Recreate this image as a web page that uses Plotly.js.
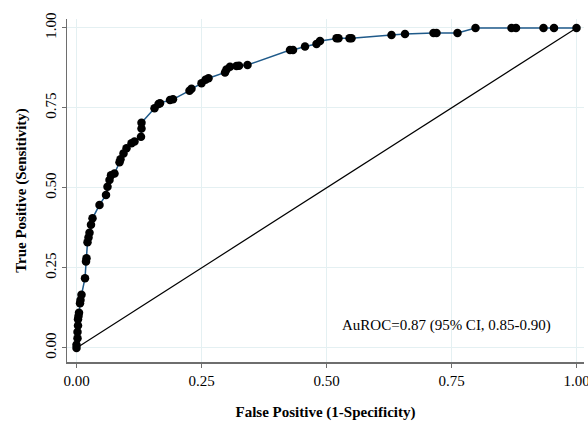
<!DOCTYPE html>
<html>
<head>
<meta charset="utf-8">
<script src="https://cdn.plot.ly/plotly-3.0.1.min.js"></script>
<style>html,body{margin:0;padding:0;background:#fff;}#chart{width:588px;height:421px;}</style>
</head>
<body>
<div id="chart"></div>
<script>
// ROC curve points
const fpr = [0,0,0.002,0.002,0.003,0.003,0.004,0.005,0.007,0.008,0.010,0.017,0.019,0.020,0.022,0.024,0.026,0.029,0.032,0.046,0.059,0.062,0.066,0.069,0.076,0.086,0.088,0.094,0.100,0.110,0.116,0.129,0.130,0.130,0.156,0.164,0.167,0.187,0.193,0.226,0.230,0.250,0.258,0.264,0.297,0.300,0.307,0.320,0.325,0.342,0.427,0.433,0.457,0.480,0.487,0.520,0.524,0.546,0.550,0.630,0.657,0.714,0.720,0.762,0.798,0.870,0.879,0.934,0.955,1.0];
const tpr = [0,0.010,0.030,0.050,0.070,0.090,0.100,0.110,0.140,0.150,0.166,0.218,0.270,0.280,0.330,0.345,0.360,0.385,0.405,0.447,0.478,0.504,0.525,0.540,0.545,0.580,0.590,0.608,0.624,0.640,0.645,0.660,0.686,0.704,0.749,0.762,0.765,0.775,0.777,0.804,0.810,0.827,0.838,0.843,0.861,0.870,0.879,0.881,0.882,0.884,0.931,0.931,0.942,0.950,0.959,0.968,0.968,0.968,0.968,0.978,0.981,0.984,0.984,0.984,1.0,1.0,1.0,1.0,1.0,1.0];
const refX = [0, 1];
const refY = [0, 1];
const tickVals = [0, 0.25, 0.5, 0.75, 1];
const tickText = ["0.00", "0.25", "0.50", "0.75", "1.00"];
const xTitle = "False Positive (1-Specificity)";
const yTitle = "True Positive (Sensitivity)";
const note = "AuROC=0.87 (95% CI, 0.85-0.90)";

const serif = "Liberation Serif, Times New Roman, serif";
const traces = [
  {x: refX, y: refY, mode: "lines", line: {color: "#000", width: 1.2}, hoverinfo: "skip"},
  {x: fpr, y: tpr, mode: "lines+markers", line: {color: "#1f5a8a", width: 1.5},
   marker: {color: "#000", size: 8.5}}
];
const axisCommon = {
  tickvals: tickVals, ticktext: tickText,
  showgrid: true, gridcolor: "#e4f0f2", gridwidth: 1,
  zeroline: false, showline: true, linecolor: "#6e6e6e", linewidth: 1.5,
  ticks: "outside", ticklen: 4, tickcolor: "#6e6e6e",
  ticklabeloverflow: "allow",
  tickfont: {family: serif, size: 15, color: "#000"}
};
const layout = {
  width: 588, height: 421,
  margin: {l: 67, r: 4, t: 19, b: 59},
  paper_bgcolor: "#fff", plot_bgcolor: "#fff",
  showlegend: false,
  xaxis: Object.assign({}, axisCommon, {
    range: [-0.019, 1.015],
    title: {text: xTitle, font: {family: serif, size: 15, color: "#000", weight: "bold"}, standoff: 21}
  }),
  yaxis: Object.assign({}, axisCommon, {
    range: [-0.044, 1.028], tickangle: -90,
    title: {text: yTitle, font: {family: serif, size: 15, color: "#000", weight: "bold"}, standoff: 12}
  }),
  annotations: [{
    x: 0.74, y: 0.07, xref: "x", yref: "y", text: note, showarrow: false,
    font: {family: serif, size: 15, color: "#000"}
  }]
};
Plotly.newPlot("chart", traces, layout, {displayModeBar: false, staticPlot: true});
</script>
</body>
</html>
